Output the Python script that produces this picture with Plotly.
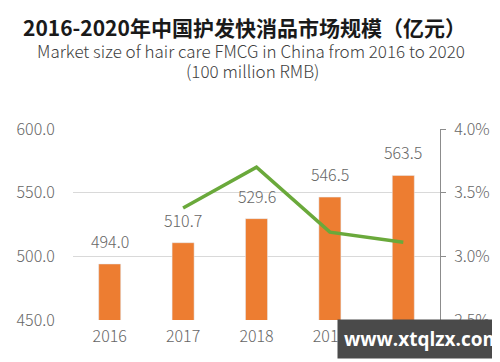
import plotly.graph_objects as go

years = ["2016", "2017", "2018", "2019", "2020"]
market_size = [494.0, 510.7, 529.6, 546.5, 563.5]
growth_years = ["2017", "2018", "2019", "2020"]
growth_rate = [0.0338, 0.0370, 0.0319, 0.0311]
left_ticks = [450, 500, 550, 600]
right_ticks = [0.025, 0.030, 0.035, 0.040]

BAR = "#ed7d31"
LINE = "#6aa93b"
GRAY = "#666666"
FONT = "Noto Sans CJK SC"
TICKFONT = dict(family=FONT, size=16, color=GRAY, weight=300)
CLEAR = "rgba(0,0,0,0)"

fig = go.Figure()
fig.add_trace(go.Bar(x=years, y=market_size, marker_color=BAR, width=0.3,
                     yaxis="y", showlegend=False))
fig.add_trace(go.Scatter(x=growth_years, y=growth_rate, mode="lines",
                         line=dict(color=LINE, width=3.5), yaxis="y2",
                         showlegend=False))

annotations = []
for i, v in enumerate(market_size):
    annotations.append(dict(x=i, y=v, xref="x", yref="y", text=f"{v:.1f}",
                            showarrow=False, yanchor="bottom", yshift=9,
                            font=TICKFONT))

layout_annotations = annotations + [
    dict(xref="paper", yref="paper", x=0.468, y=1.0, yshift=102,
         text="<b>2016-2020年中国护发快消品市场规模（亿元）</b>", showarrow=False,
         font=dict(family=FONT, size=21, color="#1a1a1a"), yanchor="middle"),
    dict(xref="paper", yref="paper", x=0.486, y=1.0, yshift=79,
         text="Market size of hair care FMCG in China from 2016 to 2020",
         showarrow=False, font=dict(family=FONT, size=17, color="#404040", weight=300),
         yanchor="middle"),
    dict(xref="paper", yref="paper", x=0.49, y=1.0, yshift=59,
         text="(100 million RMB)", showarrow=False,
         font=dict(family=FONT, size=17, color="#404040", weight=300), yanchor="middle"),
    dict(xref="paper", yref="paper", x=1.0, y=0.0, xshift=68, yshift=-19,
         xanchor="right", yanchor="middle", text="<b>www.xtqlzx.com</b>",
         showarrow=False, bgcolor="#4a4a4a", borderpad=6,
         font=dict(family="Open Sans", size=19, color="white")),
]

fig.update_layout(
    width=492, height=354,
    margin=dict(l=65, r=60, t=121, b=42, autoexpand=False),
    paper_bgcolor="white", plot_bgcolor="white",
    xaxis=dict(type="category", range=[-0.5, len(years) - 0.5], automargin=False,
               showgrid=False, showline=False, ticks="outside", ticklen=2,
               tickcolor=CLEAR, tickfont=TICKFONT),
    yaxis=dict(range=[450, 600], tickvals=left_ticks, automargin=False,
               ticktext=[f"{t:.1f}" for t in left_ticks],
               showgrid=True, gridcolor="#d9d9d9", gridwidth=1,
               zeroline=False, showline=False,
               tickfont=TICKFONT, ticks="outside", ticklen=14, tickcolor=CLEAR),
    yaxis2=dict(range=[0.025, 0.040], tickvals=right_ticks, automargin=False,
                ticktext=[f"{t*100:.1f}%" for t in right_ticks],
                overlaying="y", side="right", showgrid=False, zeroline=False,
                showline=True, linecolor="#8c8c8c", linewidth=1,
                ticks="outside", ticklen=5, tickcolor="#8c8c8c",
                tickfont=TICKFONT, ticklabelstandoff=5),
    annotations=layout_annotations,
)

fig.write_html("out.html")
